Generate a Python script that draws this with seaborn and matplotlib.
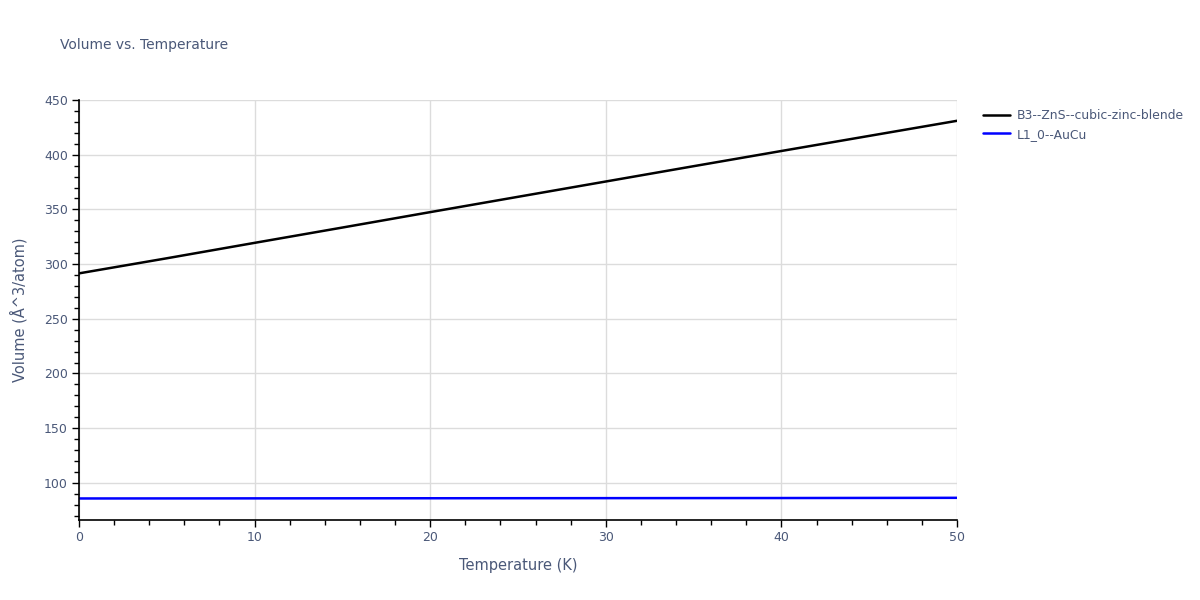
import numpy as np
import pandas as pd
import matplotlib
matplotlib.use('Agg')
import matplotlib.pyplot as plt
from matplotlib.ticker import MultipleLocator
import seaborn as sns

# values
temperature = [0, 5, 10, 15, 20, 25, 30, 35, 40, 45, 50]
vol_zns = [291.5, 305.3, 319.4, 333.4, 347.5, 361.5, 375.5, 389.5, 403.4, 417.2, 431.0]
vol_aucu = [85.7, 85.75, 85.8, 85.85, 85.9, 85.95, 86.0, 86.05, 86.1, 86.2, 86.3]
series_names = ['B3--ZnS--cubic-zinc-blende', 'L1_0--AuCu']
series_colors = ['black', 'blue']

df = pd.concat([
    pd.DataFrame({'Temperature': temperature, 'Volume': vol_zns, 'Structure': series_names[0]}),
    pd.DataFrame({'Temperature': temperature, 'Volume': vol_aucu, 'Structure': series_names[1]}),
])

sns.set_theme(style="white")
plt.rcParams['font.family'] = ['DejaVu Sans']

text_color = '#4a5878'

fig = plt.figure(figsize=(12, 6), dpi=100)
ax = fig.add_axes([0.0658, 0.1333, 0.7317, 0.7])

sns.lineplot(data=df, x='Temperature', y='Volume', hue='Structure',
             palette=dict(zip(series_names, series_colors)), linewidth=1.8, ax=ax)

ax.set_xlim(0, 50)
ax.set_ylim(66, 450)
ax.xaxis.set_major_locator(MultipleLocator(10))
ax.xaxis.set_minor_locator(MultipleLocator(2))
ax.yaxis.set_major_locator(MultipleLocator(50))
ax.yaxis.set_minor_locator(MultipleLocator(10))
ax.yaxis.set_major_formatter(matplotlib.ticker.FuncFormatter(lambda v, p: f'{v:.0f}'))

ax.grid(True, which='major', color='#dcdcdc', linewidth=1)
ax.set_axisbelow(True)
for side in ['top', 'right']:
    ax.spines[side].set_visible(False)
for side in ['left', 'bottom']:
    ax.spines[side].set_color('black')
    ax.spines[side].set_linewidth(1.2)

ax.tick_params(which='both', direction='out', color='black', left=True, bottom=True)
ax.tick_params(which='major', length=5, width=1, labelsize=9, labelcolor=text_color, pad=3)
ax.tick_params(which='minor', length=3.5, width=1)

ax.set_xlabel('Temperature (K)', fontsize=10.5, color=text_color, labelpad=10)
ax.set_ylabel('Volume (Å^3/atom)', fontsize=10.5, color=text_color, labelpad=12)

fig.text(60 / 1200, 1 - 45 / 600, 'Volume vs. Temperature', fontsize=10,
         color=text_color, va='center', ha='left')

leg = ax.legend(title=None, loc='upper left', bbox_to_anchor=(1.024, 0.99),
                frameon=False, fontsize=8.9, handlelength=2.2, handletextpad=0.5,
                labelspacing=0.45, borderaxespad=0)
for t in leg.get_texts():
    t.set_color(text_color)

fig.savefig('out.png', dpi=100)
